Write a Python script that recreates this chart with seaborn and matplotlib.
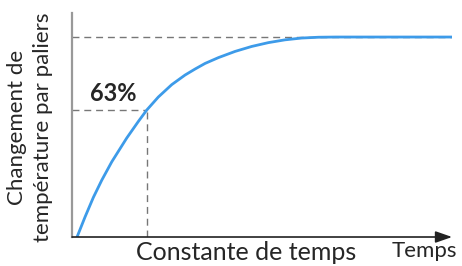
import numpy as np
import pandas as pd
import seaborn as sns
import matplotlib.pyplot as plt

# step response (time in time-constants, fraction of final change)
temps = [0.0, 0.114, 0.233, 0.353, 0.496, 0.71, 0.876, 0.996, 1.161, 1.353,
         1.543, 1.686, 1.829, 2.019, 2.257, 2.496, 2.733, 2.971, 3.21, 3.45,
         3.7, 5.357]
changement = [0.0, 0.10, 0.198, 0.284, 0.376, 0.495, 0.578, 0.635, 0.70, 0.762,
              0.81, 0.84, 0.868, 0.897, 0.928, 0.953, 0.972, 0.986, 0.995, 0.999,
              1.0, 1.0]
tau = 1.0
niveau_63 = 0.635
niveau_final = 1.0

sns.set_style("white")
plt.rcParams['font.family'] = ['Lato', 'DejaVu Sans']

df = pd.DataFrame({"t": temps, "y": changement})

fig = plt.figure(figsize=(4.62, 2.66), dpi=100)
ax = fig.add_axes([0.156, 0.109, 0.8225, 0.842])

sns.lineplot(data=df, x="t", y="y", ax=ax, color="#3d9be9", linewidth=2.0, zorder=3)

dash = dict(color="#777777", linewidth=1.0, linestyle=(0, (5, 3.5)), zorder=2)
ax.plot([-0.071, tau], [niveau_63, niveau_63], **dash)
ax.plot([tau, tau], [0, niveau_63], **dash)
ax.plot([-0.071, 5.357], [niveau_final, niveau_final], **dash)

ax.set_xlim(-0.071, 5.357)
ax.set_ylim(0, 1.12)
ax.set_xticks([])
ax.set_yticks([])
ax.set_xlabel("")
ax.set_ylabel("")
for s in ["top", "right", "bottom"]:
    ax.spines[s].set_visible(False)
ax.spines["left"].set_color("#999999")
ax.spines["left"].set_linewidth(1.6)

# x axis with arrow
ax.annotate("", xy=(1.0, 0), xytext=(0, 0), xycoords="axes fraction",
            arrowprops=dict(arrowstyle="-|>,head_length=1.0,head_width=0.35",
                            color="#222222", lw=1.2, shrinkA=0, shrinkB=0))

ax.text(0.047, 0.64, "63%", transform=ax.transAxes, fontsize=17,
        fontweight="bold", ha="left", va="center")
fig.text(246 / 462, 1 - 253 / 266, "Constante de temps", fontsize=18,
         ha="center", va="center")
fig.text(424 / 462, 1 - 251 / 266, "Temps", fontsize=16,
         ha="center", va="center")
fig.text(17 / 462, 1 - 127 / 266, "Changement de", fontsize=16, rotation=90,
         ha="center", va="center")
fig.text(43 / 462, 1 - 127 / 266, "température par paliers", fontsize=16, rotation=90,
         ha="center", va="center")

fig.savefig("out.png", dpi=100)
